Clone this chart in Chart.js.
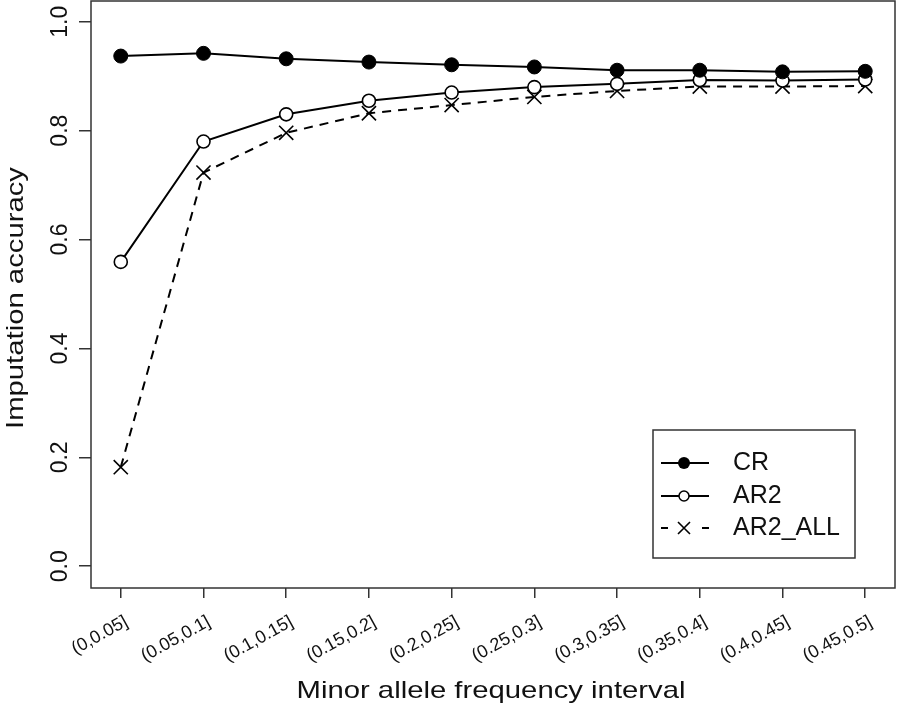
<!DOCTYPE html>
<html><head><meta charset="utf-8">
<script src="https://cdn.jsdelivr.net/npm/chart.js@4"></script>
<style>html,body{margin:0;padding:0;background:#fff;overflow:hidden;}</style>
</head><body>
<canvas id="c" width="898" height="707" style="display:block;width:898px;height:707px"></canvas>
<script>
// ---- data ----
const categories = ['(0,0.05]','(0.05,0.1]','(0.1,0.15]','(0.15,0.2]','(0.2,0.25]','(0.25,0.3]','(0.3,0.35]','(0.35,0.4]','(0.4,0.45]','(0.45,0.5]'];
const crValues     = [0.937, 0.942, 0.932, 0.926, 0.921, 0.917, 0.911, 0.911, 0.908, 0.909];
const ar2Values    = [0.559, 0.780, 0.830, 0.855, 0.870, 0.880, 0.886, 0.893, 0.892, 0.894];
const ar2AllValues = [0.182, 0.723, 0.796, 0.832, 0.847, 0.862, 0.873, 0.881, 0.881, 0.882];
const yTickValues  = [0, 0.2, 0.4, 0.6, 0.8, 1.0];
const yTickLabels  = ['0.0', '0.2', '0.4', '0.6', '0.8', '1.0'];
const seriesNames  = ['CR', 'AR2', 'AR2_ALL'];
const xTitle = 'Minor allele frequency interval';
const yTitle = 'Imputation accuracy';

const FONT = '"Liberation Sans", Arial, sans-serif';
const toPts = vals => vals.map((v, i) => ({ x: i + 1, y: v }));

function txt(ctx, s, x, y, rot, size, align, baseline, stretch) {
  ctx.save();
  ctx.translate(x, y);
  ctx.rotate(rot);
  ctx.scale(stretch, 1);
  ctx.font = size + 'px ' + FONT;
  ctx.fillStyle = '#111';
  ctx.textAlign = align;
  ctx.textBaseline = baseline;
  ctx.fillText(s, 0, 0);
  ctx.restore();
}

const decor = {
  id: 'decor',
  afterDraw(chart) {
    const ctx = chart.ctx;
    const ca = chart.chartArea;
    const xs = chart.scales.x, ys = chart.scales.y;
    // plot box
    ctx.save();
    ctx.strokeStyle = '#333';
    ctx.lineWidth = 1.5;
    ctx.strokeRect(ca.left, ca.top + 1, ca.right - ca.left, ca.bottom - ca.top - 1);
    ctx.restore();
    // x tick labels
    const ang = -29 * Math.PI / 180;
    categories.forEach((c, i) => {
      const px = xs.getPixelForValue(i + 1);
      txt(ctx, c, px + 8, 625, ang, 18, 'right', 'alphabetic', 1.0);
    });
    // y tick labels
    yTickValues.forEach((v, i) => {
      const py = ys.getPixelForValue(v);
      txt(ctx, yTickLabels[i], 67, py, -Math.PI / 2, 23, 'center', 'alphabetic', 1);
    });
    // titles
    txt(ctx, xTitle, (ca.left + ca.right) / 2 - 2, 698, 0, 24, 'center', 'alphabetic', 1.22);
    txt(ctx, yTitle, 23, (ca.top + ca.bottom) / 2 + 4, -Math.PI / 2, 24, 'center', 'alphabetic', 1.22);
    // legend
    const lx = 653, ly = 430, lw = 202, lh = 128;
    ctx.save();
    ctx.fillStyle = '#fff';
    ctx.fillRect(lx, ly, lw, lh);
    ctx.strokeStyle = '#333';
    ctx.lineWidth = 1.5;
    ctx.strokeRect(lx, ly, lw, lh);
    const rows = [463, 496, 528];
    const x0 = 661, x1 = 709, xm = 684;
    ctx.strokeStyle = '#000';
    ctx.lineWidth = 2;
    // CR
    ctx.beginPath(); ctx.moveTo(x0, rows[0]); ctx.lineTo(x1, rows[0]); ctx.stroke();
    ctx.beginPath(); ctx.arc(xm, rows[0], 6, 0, Math.PI * 2); ctx.fillStyle = '#000'; ctx.fill();
    // AR2
    ctx.beginPath(); ctx.moveTo(x0, rows[1]); ctx.lineTo(x1, rows[1]); ctx.stroke();
    ctx.beginPath(); ctx.arc(xm, rows[1], 5, 0, Math.PI * 2); ctx.fillStyle = '#fff'; ctx.fill();
    ctx.lineWidth = 1.5; ctx.stroke();
    // AR2_ALL
    ctx.lineWidth = 2;
    ctx.beginPath(); ctx.moveTo(x0, rows[2]); ctx.lineTo(x0 + 7, rows[2]); ctx.stroke();
    ctx.beginPath(); ctx.moveTo(x1 - 7, rows[2]); ctx.lineTo(x1, rows[2]); ctx.stroke();
    ctx.lineWidth = 1.6;
    ctx.beginPath();
    ctx.moveTo(xm - 6, rows[2] - 6); ctx.lineTo(xm + 6, rows[2] + 6);
    ctx.moveTo(xm - 6, rows[2] + 6); ctx.lineTo(xm + 6, rows[2] - 6);
    ctx.stroke();
    ctx.restore();
    seriesNames.forEach((n, i) => txt(ctx, n, 733, rows[i], 0, 25, 'left', 'middle', 1));
  }
};

new Chart(document.getElementById('c'), {
  type: 'line',
  data: {
    datasets: [
      { label: seriesNames[0], data: toPts(crValues), borderColor: '#000', borderWidth: 2,
        pointStyle: 'circle', pointRadius: 7, pointBackgroundColor: '#000', pointBorderColor: '#000', pointBorderWidth: 1 },
      { label: seriesNames[1], data: toPts(ar2Values), borderColor: '#000', borderWidth: 2,
        pointStyle: 'circle', pointRadius: 6.5, pointBackgroundColor: '#fff', pointBorderColor: '#000', pointBorderWidth: 1.6 },
      { label: seriesNames[2], data: toPts(ar2AllValues), borderColor: '#000', borderWidth: 2, borderDash: [9, 7],
        pointStyle: 'crossRot', pointRadius: 10, pointBackgroundColor: '#000', pointBorderColor: '#000', pointBorderWidth: 1.6 }
    ]
  },
  options: {
    responsive: false,
    animation: false,
    devicePixelRatio: 1,
    layout: { autoPadding: false, padding: { left: 0, right: 3, top: 0, bottom: 0 } },
    plugins: { legend: { display: false }, tooltip: { enabled: false } },
    elements: { line: { tension: 0, fill: false } },
    scales: {
      x: {
        type: 'linear', min: 0.64, max: 10.36,
        afterBuildTicks: s => { s.ticks = categories.map((_, i) => ({ value: i + 1 })); },
        afterFit: s => { s.height = 119; },
        ticks: { display: false },
        grid: { display: true, drawOnChartArea: false, drawTicks: true, tickLength: 10, color: '#333', lineWidth: 1.5 },
        border: { display: false }
      },
      y: {
        type: 'linear', min: -0.04, max: 1.04,
        afterBuildTicks: s => { s.ticks = yTickValues.map(v => ({ value: v })); },
        afterFit: s => { s.width = 91; },
        ticks: { display: false },
        grid: { display: true, drawOnChartArea: false, drawTicks: true, tickLength: 12, color: '#333', lineWidth: 1.5 },
        border: { display: false }
      }
    }
  },
  plugins: [decor]
});
</script>
</body></html>
